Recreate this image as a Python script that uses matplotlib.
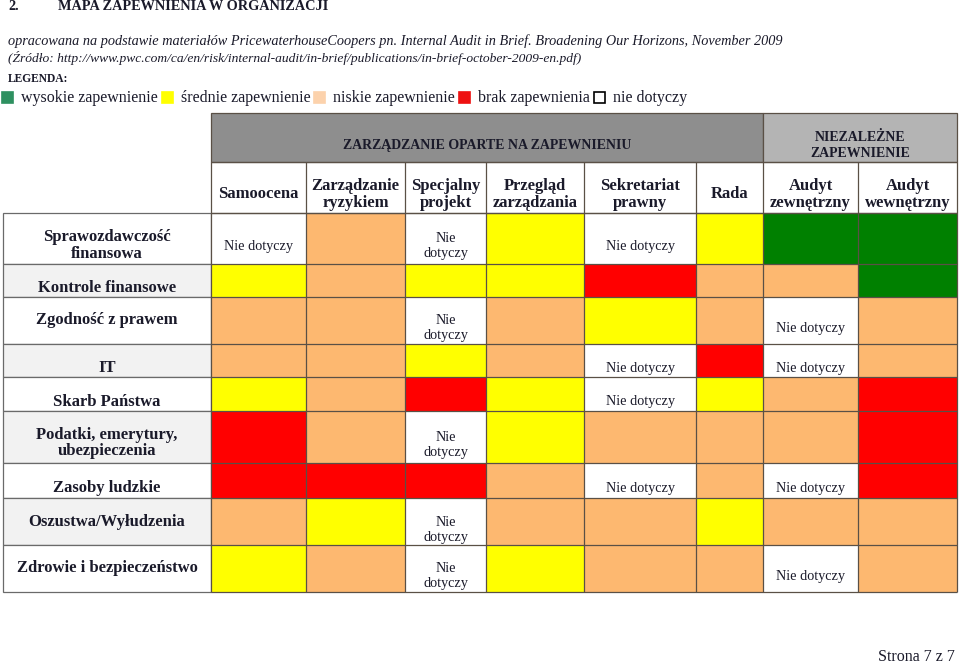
import matplotlib
matplotlib.use('Agg')
import matplotlib.pyplot as plt
import numpy as np
from matplotlib.colors import ListedColormap
from matplotlib.patches import Rectangle

plt.rcParams['font.family'] = ['Liberation Serif', 'DejaVu Serif']

# --- data -------------------------------------------------------------
groups = ['ZARZĄDZANIE OPARTE NA ZAPEWNIENIU', 'NIEZALEŻNE\nZAPEWNIENIE']
group_span = [6, 2]
columns = ['Samoocena', 'Zarządzanie\nryzykiem', 'Specjalny\nprojekt',
           'Przegląd\nzarządzania', 'Sekretariat\nprawny', 'Rada',
           'Audyt\nzewnętrzny', 'Audyt\nwewnętrzny']
areas = ['Sprawozdawczość\nfinansowa', 'Kontrole finansowe',
         'Zgodność z prawem', 'IT', 'Skarb Państwa',
         'Podatki, emerytury,\nubezpieczenia', 'Zasoby ludzkie',
         'Oszustwa/Wyłudzenia', 'Zdrowie i bezpieczeństwo']
# N = nie dotyczy, W = wysokie, S = średnie, L = niskie, B = brak
levels = ['N', 'W', 'S', 'L', 'B']
grid = ['NLNSNSWW',
        'SLSSBLLW',
        'LLNLSLNL',
        'LLSLNBNL',
        'SLBSNSLB',
        'BLNSLLLB',
        'BBBLNLNB',
        'LSNLLSLL',
        'SLNSLLNL']
legend_labels = ['wysokie zapewnienie', 'średnie zapewnienie',
                 'niskie zapewnienie', 'brak zapewnienia', 'nie dotyczy']

# --- layout (pixel coordinates) --------------------------------------
col_edges = [211, 306, 405, 486, 584, 696, 763, 858, 957]
row_edges = [213, 264, 297, 344, 377, 411, 463, 498, 545, 592]
head_edges = [113, 162, 213]
label_x0 = 3
label_dy = [7, 8, 0, 8, 8, 6, 8, 0, 0]
cell_colors = ['white', '#008000', '#ffff00', '#fdb870', '#ff0000']
legend_colors = ['#2e9060', '#ffff00', '#fcd2ac', '#ee1111', 'white']
line_col = '#5a5046'
lw = 0.9
fs_bold = 12
fs_caps = 10
fs_cell = 10.3
ink = '#1a1a2a'

fig = plt.figure(figsize=(9.6, 6.64), dpi=100)
ax = fig.add_axes([0, 0, 1, 1])
ax.set_xlim(0, 960)
ax.set_ylim(664, 0)
ax.axis('off')

# page texts above the table
ax.text(8, 6, '2.', fontsize=10.3, fontweight='bold', va='center', color=ink)
ax.text(58, 6, 'MAPA ZAPEWNIENIA W ORGANIZACJI', fontsize=10.3,
        fontweight='bold', va='center', color=ink)
ax.text(8, 41, 'opracowana na podstawie materiałów PricewaterhouseCoopers pn. '
        'Internal Audit in Brief. Broadening Our Horizons, November 2009',
        fontsize=10.3, style='italic', va='center', color=ink)
ax.text(8, 58, '(Źródło: http://www.pwc.com/ca/en/risk/internal-audit/in-brief/'
        'publications/in-brief-october-2009-en.pdf)',
        fontsize=9.7, style='italic', va='center', color=ink)
ax.text(8, 79, 'LEGENDA:', fontsize=8.3, fontweight='bold', va='center',
        color=ink)

# legend row, laid out left to right
fig.canvas.draw()
rend = fig.canvas.get_renderer()
x = 2
for lab, c in zip(legend_labels, legend_colors):
    ax.add_patch(Rectangle((x, 92), 11, 11, facecolor=c,
                           edgecolor='black' if c == 'white' else c, lw=1.2))
    t = ax.text(x + 19, 98, lab, fontsize=11.5, va='center', color=ink)
    w = t.get_window_extent(rend).width
    x = x + 19 + w + 4

# group header row
x0 = 0
for g, span, c in zip(groups, group_span, ['#8e8e8e', '#b4b4b4']):
    a, b = col_edges[x0], col_edges[x0 + span]
    ax.add_patch(Rectangle((a, head_edges[0]), b - a, head_edges[1] - head_edges[0],
                           facecolor=c, edgecolor=line_col, lw=lw))
    ax.text((a + b) / 2, (head_edges[0] + head_edges[1]) / 2 + 8, g,
            fontsize=fs_caps, fontweight='bold', ha='center', va='center',
            linespacing=1.3, color=ink)
    x0 += span

# column header row
for i, name in enumerate(columns):
    a, b = col_edges[i], col_edges[i + 1]
    ax.text((a + b) / 2, (head_edges[1] + head_edges[2]) / 2 + 7, name,
            fontsize=fs_bold, fontweight='bold', ha='center', va='center',
            linespacing=1.05, color=ink)

# row labels
for j, name in enumerate(areas):
    top, bot = row_edges[j], row_edges[j + 1]
    ax.add_patch(Rectangle((label_x0, top), col_edges[0] - label_x0, bot - top,
                           facecolor='white' if j % 2 == 0 else '#f2f2f2',
                           edgecolor='#6a6a6a', lw=lw))
    ax.text((label_x0 + col_edges[0]) / 2, (top + bot) / 2 + label_dy[j], name,
            fontsize=fs_bold, fontweight='bold', ha='center', va='center',
            linespacing=1.05, color=ink)

# coloured cells
codes = np.array([[levels.index(ch) for ch in row] for row in grid])
cmap = ListedColormap(cell_colors)
ax.pcolormesh(col_edges, row_edges, codes, cmap=cmap, vmin=-0.5, vmax=4.5)

# grid lines of the column header row and the cell area
ax.vlines(col_edges, head_edges[1], row_edges[-1], colors=line_col, lw=lw)
ax.hlines([head_edges[1], head_edges[2]], col_edges[0], col_edges[-1],
          colors=line_col, lw=lw)
ax.hlines(row_edges, col_edges[0], col_edges[-1], colors=line_col, lw=lw)

for j in range(len(areas)):
    for i in range(len(columns)):
        if codes[j, i] == 0:
            a, b = col_edges[i], col_edges[i + 1]
            txt = 'Nie dotyczy' if b - a > 90 else 'Nie\ndotyczy'
            ax.text((a + b) / 2, (row_edges[j] + row_edges[j + 1]) / 2 + 8, txt,
                    fontsize=fs_cell, ha='center', va='center',
                    linespacing=1.2, color=ink)

ax.text(955, 657, 'Strona 7 z 7', fontsize=11.5, ha='right', va='center',
        color=ink)

fig.savefig('out.png', dpi=100)
